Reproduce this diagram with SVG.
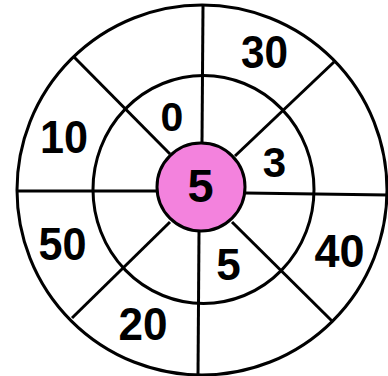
<svg xmlns="http://www.w3.org/2000/svg" width="388" height="376" viewBox="0 0 388 376">
<style>
.ln{stroke:#000;stroke-width:3;fill:none}
.t{font-family:"Liberation Sans",Arial,sans-serif;font-weight:bold;fill:#000;text-anchor:middle}
</style>
<rect width="388" height="376" fill="#fff"/>
<g id="outer"><ellipse cx="202" cy="190" rx="185" ry="185" class="ln" fill="#fff"/></g>
<g id="inner"><ellipse cx="203.5" cy="189.5" rx="110.5" ry="114" class="ln"/></g>
<g id="connectors">
<line class="ln" x1="203" y1="6" x2="202" y2="142"/>
<line class="ln" x1="199" y1="232" x2="198" y2="376"/>
<line class="ln" x1="17" y1="191" x2="157" y2="191"/>
<line class="ln" x1="245" y1="193" x2="388" y2="195"/>
<line class="ln" x1="74" y1="57" x2="170" y2="154"/>
<line class="ln" x1="334" y1="62" x2="235" y2="156"/>
<line class="ln" x1="72" y1="318" x2="170" y2="222"/>
<line class="ln" x1="333" y1="322" x2="232" y2="222"/>
</g>
<g id="center"><circle cx="201" cy="187" r="44" fill="#f382dd" stroke="#000" stroke-width="3"/>
<text class="t" x="200.5" y="202" font-size="47">5</text></g>
<g id="n30"><text class="t" x="264.5" y="68" font-size="46" textLength="47" lengthAdjust="spacingAndGlyphs">30</text></g>
<g id="n10"><text class="t" x="64" y="153" font-size="47" textLength="48" lengthAdjust="spacingAndGlyphs">10</text></g>
<g id="n0"><text class="t" x="172" y="131" font-size="41">0</text></g>
<g id="n3"><text class="t" x="274.5" y="177" font-size="42">3</text></g>
<g id="n50"><text class="t" x="62.5" y="260" font-size="46" textLength="48" lengthAdjust="spacingAndGlyphs">50</text></g>
<g id="n5"><text class="t" x="228.5" y="280" font-size="44">5</text></g>
<g id="n40"><text class="t" x="339.5" y="267" font-size="47" textLength="50" lengthAdjust="spacingAndGlyphs">40</text></g>
<g id="n20"><text class="t" x="143" y="340" font-size="46" textLength="49" lengthAdjust="spacingAndGlyphs">20</text></g>
</svg>
